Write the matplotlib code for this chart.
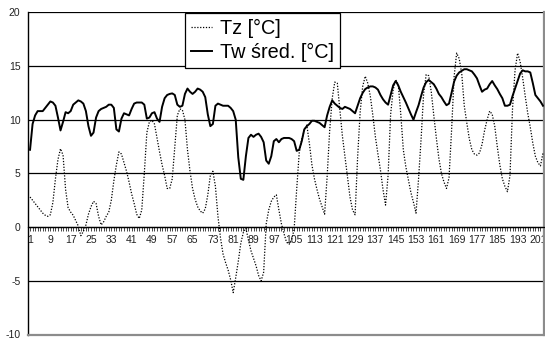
import numpy as np
import matplotlib
matplotlib.use("Agg")
import matplotlib.pyplot as plt

plt.rcParams['font.family'] = ['Liberation Sans', 'DejaVu Sans']

# daily temperatures, days 1..203
tz = [2.8, 2.5, 2.2, 1.9, 1.6, 1.3, 1.1, 1.0, 1.15, 2.3,
      4.5, 6.3, 7.3, 6.7, 3.5, 1.8, 1.4, 1.1, 0.6, 0.1,
      -0.8, -0.4, 0.2, 1.2, 1.9, 2.4, 2.2, 1.0, 0.2, 0.5,
      1.0, 1.4, 2.5, 4.3, 5.8, 7.0, 6.8, 6.0, 5.2, 4.2,
      3.1, 2.2, 1.2, 0.8, 1.6, 5.0, 8.8, 9.8, 9.95, 9.6,
      8.3, 7.0, 5.8, 4.8, 3.6, 3.6, 4.5, 7.5, 10.4, 11.0,
      10.9, 10.0, 7.2, 5.2, 3.6, 2.6, 1.9, 1.5, 1.3, 1.7,
      3.0, 4.8, 5.2, 3.8, 1.0, -1.0, -2.5, -3.3, -4.0, -4.9,
      -6.1, -4.7, -3.2, -1.5, -0.5, -0.1, -1.2, -2.2, -2.9, -3.6,
      -4.5, -5.0, -4.2, 0.3, 1.6, 2.4, 2.8, 3.0, 1.6, 0.3,
      -0.6, -1.4, -1.6, -1.2, -0.2, 3.5, 6.9, 8.2, 9.0, 9.5,
      7.8, 5.8, 4.5, 3.5, 2.6, 1.9, 1.2, 4.7, 9.0, 12.0,
      13.5, 13.4, 11.0, 8.5, 6.6, 4.7, 2.8, 1.6, 1.15, 6.5,
      10.7, 13.1, 14.05, 13.4, 12.2, 10.4, 8.4, 6.8, 5.3, 3.5,
      2.05, 4.8, 10.5, 12.8, 13.7, 13.3, 10.5, 7.2, 5.6, 4.4,
      3.2, 2.3, 1.3, 4.5, 8.2, 12.45, 14.2, 14.1, 12.6, 10.4,
      8.3, 6.4, 5.0, 4.2, 3.6, 4.6, 9.0, 14.0, 16.2, 15.7,
      14.3, 11.3, 9.7, 8.2, 7.2, 6.8, 6.7, 6.9, 7.7, 9.0,
      10.0, 10.8, 10.5, 9.4, 7.5, 5.8, 4.5, 3.8, 3.3, 4.8,
      11.0, 14.6, 16.2, 15.4, 13.9, 12.2, 10.6, 9.3, 7.8, 6.6,
      6.0, 5.7, 6.9]

tw = [7.2, 9.6, 10.4, 10.8, 10.8, 10.8, 11.1, 11.4, 11.7, 11.6,
      11.3, 10.2, 9.0, 9.8, 10.7, 10.6, 10.8, 11.4, 11.6, 11.8,
      11.7, 11.5, 10.8, 9.4, 8.5, 8.8, 10.2, 10.8, 11.0, 11.1,
      11.2, 11.4, 11.4, 11.1, 9.1, 8.9, 10.1, 10.6, 10.5, 10.4,
      11.0, 11.5, 11.6, 11.6, 11.6, 11.4, 10.1, 10.2, 10.6, 10.7,
      10.1, 9.8, 11.2, 12.0, 12.3, 12.4, 12.45, 12.3, 11.4, 11.2,
      11.3, 12.4, 12.9, 12.6, 12.4, 12.6, 12.9, 12.8, 12.6, 12.1,
      10.5, 9.4, 9.6, 11.3, 11.5, 11.4, 11.3, 11.3, 11.3, 11.1,
      10.8, 10.0, 6.5, 4.5, 4.4, 6.6, 8.3, 8.6, 8.4, 8.6,
      8.7, 8.4, 7.9, 6.2, 5.9, 6.6, 8.0, 8.2, 7.9, 8.2,
      8.3, 8.3, 8.3, 8.2, 8.0, 7.1, 7.2, 8.0, 9.1, 9.4,
      9.6, 9.9, 9.9, 9.8, 9.7, 9.5, 9.3, 10.4, 11.2, 11.8,
      11.5, 11.3, 11.1, 11.0, 11.2, 11.1, 11.0, 10.8, 10.6, 11.3,
      12.0, 12.5, 12.85, 13.0, 13.1, 13.1, 13.0, 12.8, 12.3, 11.9,
      11.6, 11.4, 12.3, 13.2, 13.6, 13.2, 12.6, 12.1, 11.6, 11.05,
      10.5, 10.0, 10.7, 11.35, 12.2, 13.0, 13.5, 13.7, 13.5, 13.3,
      12.9, 12.4, 12.1, 11.7, 11.35, 11.5, 12.5, 13.55, 14.1, 14.4,
      14.55, 14.7, 14.7, 14.6, 14.5, 14.2, 13.85, 13.2, 12.6, 12.8,
      12.9, 13.3, 13.6, 13.2, 12.85, 12.4, 12.0, 11.3, 11.3, 11.4,
      12.2, 12.9, 13.6, 14.3, 14.6, 14.5, 14.5, 14.4, 13.4, 12.3,
      12.0, 11.7, 11.3]

days = np.arange(1, len(tz) + 1)
y_ticks = [-10, -5, 0, 5, 10, 15, 20]

fig = plt.figure(figsize=(5.45, 3.39), dpi=100)
ax = fig.add_axes([27.5 / 545, 1 - 334.5 / 339, (544 - 27.5) / 545, (334.5 - 12.3) / 339])

for y in y_ticks[1:]:
    ax.axhline(y, color='black', lw=0.9, zorder=1)

ax.plot(days, tz, color='black', lw=0.9, linestyle=(0, (1, 1.3)), label='Tz [°C]', zorder=3)
ax.plot(days, tw, color='black', lw=1.4, label='Tw śred. [°C]', zorder=4)

ax.set_xlim(0.0, 203.4)
ax.set_ylim(-10, 20)

ax.spines['top'].set_visible(False)
ax.spines['left'].set_color('black')
ax.spines['left'].set_linewidth(1.0)
ax.spines['right'].set_color('#8c8c8c')
ax.spines['right'].set_linewidth(1.6)
ax.spines['bottom'].set_position(('data', 0))
ax.spines['bottom'].set_color('black')
ax.spines['bottom'].set_linewidth(0.9)
ax.axhline(-10, color='#8c8c8c', lw=1.6, clip_on=False, zorder=5)

ax.set_yticks(y_ticks)
ax.set_yticklabels([str(v) for v in y_ticks])
ax.tick_params(axis='y', length=0, pad=5, labelsize=7.5, labelcolor='#222222')

ax.set_xticks(days)
ax.set_xticklabels([str(d) if (d - 1) % 8 == 0 else '' for d in days])
ax.tick_params(axis='x', direction='out', length=3, width=0.5, pad=3,
               labelsize=7.5, labelcolor='#222222')

leg = ax.legend(loc='upper left', bbox_to_anchor=(185 / 545, 1 - 13 / 339),
                bbox_transform=fig.transFigure, borderaxespad=0, fontsize=14.3,
                frameon=True, fancybox=False, edgecolor='black', framealpha=1,
                handlelength=1.05, handletextpad=0.4, borderpad=0.3, labelspacing=0.25)
leg.get_frame().set_linewidth(0.9)

fig.savefig('out.png', dpi=100)
